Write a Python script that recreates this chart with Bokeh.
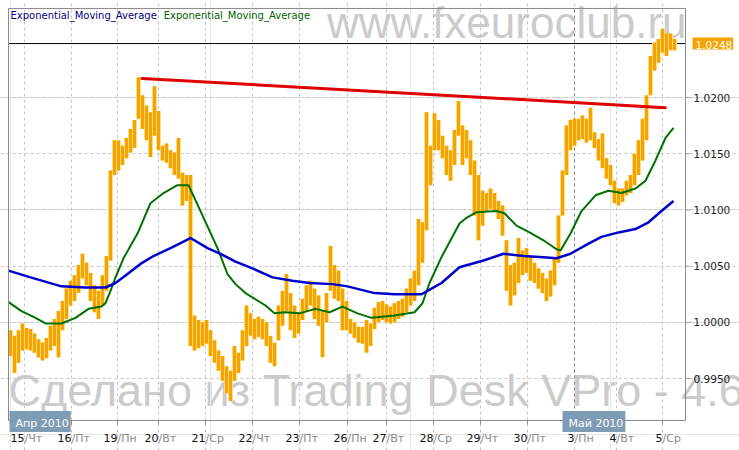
from bokeh.plotting import figure
from bokeh.models import Range1d, FixedTicker, Label, Grid
from bokeh.core.properties import value
from bokeh.embed import file_html
from bokeh.resources import INLINE

# ---------------- data ----------------
# price bars (about 2 hours per bar): high / low
bar_high = [0.9993, 0.9988, 0.9993, 0.9999, 0.9995, 0.9994, 0.9990, 0.9985, 0.9982, 0.9986,
            0.9997, 1.0003, 1.0010, 1.0019, 1.0030, 1.0037, 1.0042, 1.0051, 1.0061, 1.0053,
            1.0044, 1.0033, 1.0028, 1.0042, 1.0059, 1.0135, 1.0162, 1.0162, 1.0157, 1.0164,
            1.0172, 1.0180, 1.0218, 1.0202, 1.0193, 1.0187, 1.0210, 1.0188, 1.0157, 1.0159,
            1.0153, 1.0151, 1.0164, 1.0133, 1.0131, 1.0131, 1.0006, 1.0002, 1.0000, 1.0002,
            0.9993, 0.9984, 0.9975, 0.9970, 0.9961, 0.9957, 0.9979, 0.9973, 0.9993, 1.0015,
            1.0008, 1.0003, 1.0005, 1.0003, 1.0000, 0.9988, 0.9982, 1.0015, 1.0028, 1.0043,
            1.0026, 1.0015, 1.0009, 1.0021, 1.0033, 1.0037, 1.0030, 1.0024, 1.0010, 1.0026,
            1.0068, 1.0051, 1.0046, 1.0030, 1.0019, 1.0003, 1.0000, 0.9996, 0.9996, 1.0002,
            0.9999, 1.0013, 1.0018, 1.0019, 1.0016, 1.0014, 1.0017, 1.0019, 1.0021, 1.0030,
            1.0039, 1.0046, 1.0092, 1.0089, 1.0187, 1.0157, 1.0186, 1.0180, 1.0166, 1.0157,
            1.0153, 1.0171, 1.0197, 1.0175, 1.0171, 1.0162, 1.0144, 1.0131, 1.0117, 1.0115,
            1.0119, 1.0115, 1.0108, 1.0104, 1.0073, 1.0051, 1.0053, 1.0075, 1.0064, 1.0066,
            1.0059, 1.0053, 1.0048, 1.0044, 1.0039, 1.0046, 1.0057, 1.0095, 1.0135, 1.0175,
            1.0180, 1.0181, 1.0181, 1.0184, 1.0181, 1.0191, 1.0169, 1.0163, 1.0168, 1.0146,
            1.0140, 1.0126, 1.0119, 1.0119, 1.0126, 1.0131, 1.0150, 1.0162, 1.0181, 1.0202,
            1.0237, 1.0249, 1.0252, 1.0261, 1.0257, 1.0257, 1.0252]
bar_low = [0.9970, 0.9955, 0.9964, 0.9975, 0.9976, 0.9975, 0.9973, 0.9969, 0.9966, 0.9968,
           0.9975, 0.9979, 0.9969, 0.9993, 1.0003, 1.0015, 1.0019, 1.0026, 1.0039, 1.0033,
           1.0019, 1.0009, 1.0003, 1.0015, 1.0028, 1.0055, 1.0131, 1.0135, 1.0140, 1.0146,
           1.0151, 1.0155, 1.0181, 1.0172, 1.0162, 1.0147, 1.0166, 1.0153, 1.0144, 1.0142,
           1.0137, 1.0131, 1.0128, 1.0104, 1.0108, 0.9979, 0.9975, 0.9977, 0.9979, 0.9981,
           0.9970, 0.9964, 0.9957, 0.9948, 0.9937, 0.9930, 0.9948, 0.9955, 0.9966, 0.9979,
           0.9988, 0.9985, 0.9987, 0.9985, 0.9979, 0.9964, 0.9961, 0.9984, 0.9997, 1.0010,
           0.9993, 0.9986, 0.9990, 1.0002, 1.0010, 1.0015, 1.0003, 0.9997, 0.9969, 1.0000,
           1.0028, 1.0021, 1.0019, 0.9993, 0.9993, 0.9990, 0.9986, 0.9982, 0.9981, 0.9973,
           0.9979, 0.9994, 1.0000, 1.0002, 1.0000, 0.9999, 1.0000, 1.0003, 1.0005, 1.0009,
           1.0015, 1.0019, 1.0033, 1.0053, 1.0082, 1.0122, 1.0153, 1.0153, 1.0146, 1.0131,
           1.0126, 1.0140, 1.0166, 1.0140, 1.0146, 1.0131, 1.0095, 1.0073, 1.0086, 1.0099,
           1.0101, 1.0099, 1.0092, 1.0077, 1.0028, 1.0015, 1.0024, 1.0035, 1.0042, 1.0044,
           1.0037, 1.0035, 1.0030, 1.0026, 1.0019, 1.0023, 1.0033, 1.0053, 1.0095, 1.0131,
           1.0153, 1.0157, 1.0162, 1.0163, 1.0160, 1.0162, 1.0155, 1.0144, 1.0137, 1.0128,
           1.0122, 1.0106, 1.0104, 1.0107, 1.0113, 1.0115, 1.0122, 1.0131, 1.0144, 1.0162,
           1.0202, 1.0224, 1.0231, 1.0240, 1.0237, 1.0242, 1.0242]
bar_index = list(range(len(bar_high)))

ema_slow_x = [-0.5, 5, 12.75, 18.75, 23.75, 26.25, 29.25, 32.5, 35.75, 40,
              45, 49.25, 52.5, 56.25, 60.5, 65.5, 70.5, 74.75, 80.5, 84.25,
              91, 96, 102.75, 104.25, 107.75, 112.25, 118.25, 123.25, 128.25, 133.25,
              136.5, 140, 144.5, 147.75, 152, 156.25, 159.5, 162.75, 165.75]
ema_slow_y = [1.0046, 1.0040, 1.0032, 1.0031, 1.0031, 1.0035, 1.0043, 1.0052, 1.0059, 1.0066,
              1.0075, 1.0066, 1.0061, 1.0054, 1.0048, 1.0040, 1.0037, 1.0035, 1.0034, 1.0032,
              1.0026, 1.0025, 1.0025, 1.0028, 1.0035, 1.0049, 1.0055, 1.0061, 1.0059, 1.0058,
              1.0057, 1.0061, 1.0070, 1.0076, 1.0080, 1.0083, 1.0089, 1.0099, 1.0108]

ema_fast_x = [-0.5, 2.75, 6.25, 8.75, 12.75, 16.25, 19.5, 22.75, 23.75, 25,
              26.25, 28.25, 31.75, 35, 38.25, 41.75, 44.5, 47.5, 51.75, 54.25,
              56.25, 58.75, 63.75, 66, 68.75, 72.25, 76.25, 79.75, 83, 86.75,
              90.25, 96, 101, 103, 104.75, 107.75, 112.25, 114, 116.5, 121.5,
              123.5, 126.5, 129.75, 133.25, 136.5, 137.5, 140, 142.75, 146.25, 149.5,
              152.75, 156.25, 158.75, 161.25, 163.75, 165.75]
ema_fast_y = [1.0018, 1.0010, 1.0004, 0.9999, 0.9999, 1.0004, 1.0012, 1.0014, 1.0017, 1.0028,
              1.0040, 1.0057, 1.0079, 1.0106, 1.0115, 1.0122, 1.0122, 1.0099, 1.0066, 1.0043,
              1.0034, 1.0026, 1.0015, 1.0008, 1.0009, 1.0008, 1.0012, 1.0009, 1.0014, 1.0008,
              1.0004, 1.0006, 1.0009, 1.0017, 1.0035, 1.0058, 1.0088, 1.0093, 1.0098, 1.0099,
              1.0097, 1.0086, 1.0080, 1.0073, 1.0065, 1.0064, 1.0079, 1.0099, 1.0113, 1.0117,
              1.0115, 1.0119, 1.0126, 1.0144, 1.0164, 1.0173]

trend_x = [32.9, 163.7]
trend_y = [1.0217, 1.0191]

last_price = 1.0248

day_ticks = [3.5, 15.25, 26.75, 37, 48.75, 60.5, 72.25, 84.25, 94, 105.75,
             117.5, 129.25, 141, 151.5, 163]
day_nums = ["15", "16", "19", "20", "21", "22", "23", "26", "27", "28",
            "29", "30", "3", "4", "5"]
day_names = ["Чт", "Пт", "Пн", "Вт", "Ср", "Чт", "Пт", "Пн", "Вт", "Ср",
             "Чт", "Пт", "Пн", "Вт", "Ср"]
month_names = ["Апр 2010", "Май 2010"]
month_break = 141
price_ticks = [0.995, 1.000, 1.005, 1.010, 1.015, 1.020]

# ---------------- layout constants ----------------
# whole canvas is the plotting frame; the chart box sits inside it
CX0, CX1 = -2.5, 182.25          # canvas extent in bar units
CY0, CY1 = 0.98860, 1.02863      # canvas extent in price units
BX0, BX1 = -0.5, 168.75          # chart box
BY0, BY1 = 0.99127, 1.02792
PX = 0.25                        # bar units per pixel
PY = 0.000089                    # price units per pixel

p = figure(frame_width=739, frame_height=450,
           x_range=Range1d(CX0, CX1), y_range=Range1d(CY0, CY1),
           x_axis_location=None, y_axis_location=None,
           toolbar_location=None, output_backend="svg",
           min_border_left=0, min_border_right=0, min_border_top=0, min_border_bottom=0)
p.background_fill_color = "white"
p.border_fill_color = "white"
p.outline_line_color = None

FONT = value("DejaVu Sans")
grid_col = "#c4c4c4"
p.add_layout(Grid(dimension=0, ticker=FixedTicker(ticks=day_ticks), bounds=(BY0, BY1),
                  grid_line_color=grid_col, grid_line_dash="3 3"))
p.add_layout(Grid(dimension=1, ticker=FixedTicker(ticks=price_ticks), bounds=(BX0, BX1 + 5 * PX),
                  grid_line_color=grid_col, grid_line_dash="3 3"))

# watermarks (behind everything)
p.add_layout(Label(x=BX0, y=BY0 + 30 * PY, text="Сделано из Trading Desk VPro - 4.6",
                   text_font="Liberation Sans", text_font_size="45px",
                   text_color="#cbcbcb", text_align="left", text_baseline="alphabetic",
                   level="image"))
p.add_layout(Label(x=BX1 + 0.25, y=BY1 - 14 * PY, text="www.fxeuroclub.ru",
                   text_font="Liberation Sans", text_font_size="44px",
                   text_color="#cbcbcb", text_align="right", text_baseline="alphabetic",
                   level="image"))

# month separator and last price line
p.segment(x0=[month_break], y0=[BY0], x1=[month_break], y1=[BY1],
          line_color="#8c8c8c", line_dash="3 3", line_width=1)
p.segment(x0=[BX0], y0=[last_price], x1=[BX1], y1=[last_price],
          line_color="black", line_width=1)

# price bars
p.segment(x0=bar_index, y0=bar_low, x1=bar_index, y1=bar_high,
          line_color="#ffe48c", line_width=5)
p.segment(x0=bar_index, y0=bar_low, x1=bar_index, y1=bar_high,
          line_color="#f5a300", line_width=3.2)

# moving averages and trend
p.line(ema_fast_x, ema_fast_y, line_color="#007000", line_width=2, line_join="round")
p.line(ema_slow_x, ema_slow_y, line_color="#0000cc", line_width=2.5, line_join="round")
p.line(trend_x, trend_y, line_color="#e00000", line_width=3, line_cap="round")

# chart box
p.quad(left=[BX0], right=[BX1], bottom=[BY0], top=[BY1],
       fill_color=None, line_color="#8a8a8a", line_width=1)

# price axis (right)
n_p = len(price_ticks)
p.segment(x0=[BX1] * n_p, y0=price_ticks, x1=[BX1 + 5 * PX] * n_p, y1=price_ticks,
          line_color="#a0a0a0", line_width=1)
p.text(x=[BX1 + 8 * PX] * n_p, y=price_ticks, text=[f"{t:.4f}" for t in price_ticks],
       text_font=FONT, text_font_size="10.5px", text_color="#222222",
       text_align="left", text_baseline="middle")

# date axis (bottom)
n_d = len(day_ticks)
p.segment(x0=day_ticks, y0=[BY0] * n_d, x1=day_ticks, y1=[BY0 - 4 * PY] * n_d,
          line_color="#8a8a8a", line_width=1)
p.text(x=day_ticks, y=[BY0 - 18 * PY] * n_d, text=day_nums, text_font=FONT,
       text_font_size="11px", text_color="#111111", text_align="right", text_baseline="middle")
p.text(x=day_ticks, y=[BY0 - 18 * PY] * n_d, text=["/" + d for d in day_names], text_font=FONT,
       text_font_size="11px", text_color="#8a8a8a", text_align="left", text_baseline="middle")

# month boxes
for mx, mname in zip([BX0 + 0.25, month_break - 3], month_names):
    p.add_layout(Label(x=mx, y=BY0 - 1 * PY, text=mname, text_font="DejaVu Sans",
                       text_font_size="11px", text_color="white", text_baseline="middle",
                       background_fill_color="#7f9cb7", padding=[6, 2, 6, 2]))

# legend texts
p.add_layout(Label(x=BX0 + 0.5, y=BY1 - 7 * PY, text="Exponential_Moving_Average",
                   text_font="DejaVu Sans", text_font_size="10px", text_color="#000080",
                   text_baseline="middle"))
p.add_layout(Label(x=38.3, y=BY1 - 7 * PY, text="Exponential_Moving_Average",
                   text_font="DejaVu Sans", text_font_size="10px", text_color="#006400",
                   text_baseline="middle"))

# last price marker
p.add_layout(Label(x=BX1 + 7 * PX, y=last_price, text=f"{last_price:.4f}", text_font="DejaVu Sans",
                   text_font_size="10.5px", text_color="white", text_baseline="middle",
                   background_fill_color="#f5a300", padding=[3, 1, 3, 1]))

open("out.html", "w").write(file_html(p, INLINE))
